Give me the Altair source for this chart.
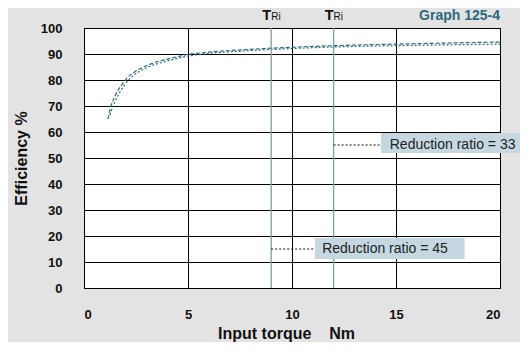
import altair as alt
import pandas as pd

# Curve data
torque_33 = [1.15, 1.3, 1.5, 1.8, 2.1, 2.5, 3.0, 3.5, 4.0, 5.0, 6.0, 8.0, 10.0, 12.0, 15.0, 20.0]
eff_33 = [65, 70, 74, 78, 81, 83.5, 85.5, 87, 88, 89.8, 90.7, 91.8, 92.6, 93.2, 93.8, 94.6]
torque_45 = [1.25, 1.4, 1.6, 1.9, 2.2, 2.6, 3.0, 3.5, 4.0, 5.0, 6.0, 8.0, 10.0, 12.0, 15.0, 20.0]
eff_45 = [66.5, 70, 73.5, 77.5, 80.5, 83, 84.7, 86.2, 87.3, 89.2, 90.2, 91.3, 92.1, 92.7, 93.2, 93.8]
t_ri = [9, 12]
x_ticks = [0, 5, 10, 15, 20]
y_ticks = [0, 10, 20, 30, 40, 50, 60, 70, 80, 90, 100]
labels = ["Reduction ratio = 33", "Reduction ratio = 45"]
x_title = "Input torque\u00a0\u00a0\u00a0\u00a0Nm"
y_title = "Efficiency %"

TEAL = "#2d6a7e"
FONT = "Liberation Sans"
BG = "#e3e3e3"

curves = pd.DataFrame({
    "torque": torque_33 + torque_45,
    "eff": eff_33 + eff_45,
    "ratio": ["33"] * len(torque_33) + ["45"] * len(torque_45),
})

xs = alt.Scale(domain=[0, 20], nice=False, zero=False)
ys = alt.Scale(domain=[0, 100], nice=False, zero=False)

xaxis = alt.Axis(values=x_ticks, grid=True, gridColor="black", gridOpacity=1, gridWidth=1,
                 domainColor="black", ticks=False, labelPadding=20, labelFont=FONT,
                 labelFontSize=13, labelFontWeight="bold", labelColor="#111", labelOverlap=False,
                 titleFont=FONT, titleFontSize=16, titleX=202,
                 titleFontWeight="bold", titleColor="#111", titlePadding=4)
yaxis = alt.Axis(values=y_ticks, grid=True, gridColor="black", gridOpacity=1, gridWidth=1,
                 domainColor="black", ticks=False, labelPadding=22, labelFont=FONT,
                 labelFontSize=13, labelFontWeight="bold", labelColor="#111", labelOverlap=False,
                 titleFont=FONT, titleFontSize=16,
                 titleFontWeight="bold", titleColor="#111", titlePadding=11)


def X(field):
    return alt.X(field, scale=xs, axis=xaxis, title=x_title)


def Y(field):
    return alt.Y(field, scale=ys, axis=yaxis, title=y_title)


lines = alt.Chart(curves).mark_line(color=TEAL, strokeWidth=1.2, interpolate="monotone").encode(
    x=X("torque:Q"),
    y=Y("eff:Q"),
    strokeDash=alt.StrokeDash("ratio:N", scale=alt.Scale(domain=["33", "45"], range=[[4, 2], [2, 2]]), legend=None),
    detail="ratio:N",
)

tri_df = pd.DataFrame({"x": t_ri})
tri_rules = alt.Chart(tri_df).mark_rule(color="#7a9eae", strokeWidth=1.3).encode(x=X("x:Q"))
tri_T = alt.Chart(tri_df).mark_text(text="T", align="right", baseline="alphabetic", dx=0,
                                    font=FONT, fontSize=14.5, fontWeight="bold", color="#111").encode(
    x=X("x:Q"), y=alt.value(-8)
)
tri_sub = alt.Chart(tri_df).mark_text(text="Ri", align="left", baseline="alphabetic", dx=0,
                                      font=FONT, fontSize=10, color="#111").encode(
    x=X("x:Q"), y=alt.value(-8)
)

graph_lbl = alt.Chart(pd.DataFrame({"a": [0]})).mark_text(
    text="Graph 125-4", align="right", baseline="alphabetic", font=FONT, fontSize=14,
    fontWeight="bold", color=TEAL).encode(x=alt.value(416), y=alt.value(-8))

ann = pd.DataFrame({
    "lx": [12, 9], "lx2": [14.28, 11.1], "ly": [55, 15],
    "bx": [14.28, 11.1], "bx2": [21.3, 18.3], "by": [59.6, 19.2], "by2": [51.9, 11.2],
    "tx": [14.7, 11.45], "label": labels,
})
leaders = alt.Chart(ann).mark_rule(color="#111", strokeWidth=1, strokeDash=[2, 2]).encode(
    x=X("lx:Q"), x2="lx2:Q", y=Y("ly:Q")
)
boxes = alt.Chart(ann).mark_rect(color="#c5d8e1").encode(
    x=X("bx:Q"), x2="bx2:Q", y=Y("by:Q"), y2="by2:Q"
)
texts = alt.Chart(ann).mark_text(align="left", baseline="middle", font=FONT, fontSize=14,
                                 color="#222").encode(
    x=X("tx:Q"), y=Y("ly:Q"), text="label:N"
)

chart = alt.layer(lines, tri_rules, leaders, boxes, texts, tri_T, tri_sub, graph_lbl).properties(
    width=416, height=260,
    autosize=alt.AutoSizeParams(type="none"),
    padding={"left": 76, "top": 20, "right": 20, "bottom": 54},
    background=BG,
).configure(background=BG).configure_view(stroke="black", strokeWidth=1, fill="white")

chart.save("out.html", embed_options={"renderer": "svg", "actions": False})
